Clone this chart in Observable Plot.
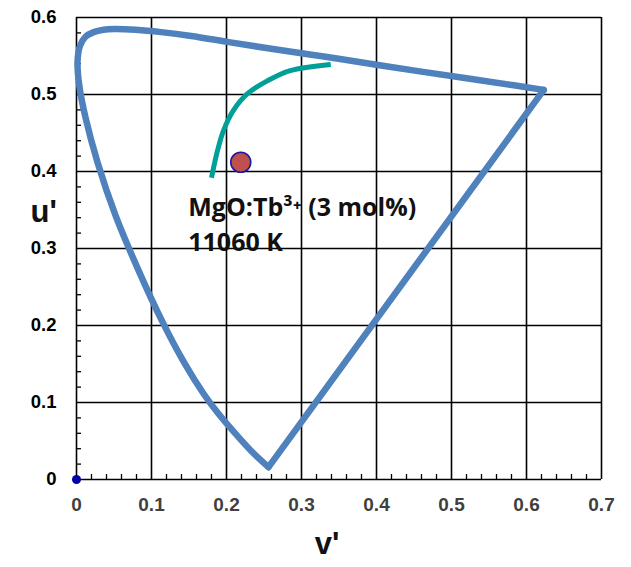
<!DOCTYPE html>
<html><head><meta charset="utf-8">
<script src="https://cdn.jsdelivr.net/npm/d3@7"></script>
<script src="https://cdn.jsdelivr.net/npm/@observablehq/plot@0.6"></script>
<style>body{margin:0;background:#fff}</style>
</head><body><div id="chart"></div>
<script>
// Axis ticks
const xTicks = [0, 0.1, 0.2, 0.3, 0.4, 0.5, 0.6, 0.7];
const yTicks = [0, 0.1, 0.2, 0.3, 0.4, 0.5, 0.6];
const xTickLabels = ["0", "0.1", "0.2", "0.3", "0.4", "0.5", "0.6", "0.7"];
const yTickLabels = ["0", "0.1", "0.2", "0.3", "0.4", "0.5", "0.6"];
const xMinor = [0.02,0.04,0.06,0.08,0.12,0.14,0.16,0.18,0.22,0.24,0.26,0.28,0.32,0.34,0.36,0.38,0.42,0.44,0.46,0.48,0.52,0.54,0.56,0.58,0.62,0.64,0.66,0.68];
const yMinor = [0.02,0.04,0.06,0.08,0.12,0.14,0.16,0.18,0.22,0.24,0.26,0.28,0.32,0.34,0.36,0.38,0.42,0.44,0.46,0.48,0.52,0.54,0.56,0.58];

// Spectral locus (horizontal = v', vertical = u' as labelled)
const locusV = [0.256, 0.235, 0.216, 0.188, 0.169, 0.144, 0.115, 0.083, 0.052, 0.028, 0.012, 0.0035, 0.0014, 0.0046, 0.012, 0.023, 0.036, 0.050, 0.079, 0.113, 0.153, 0.203, 0.262, 0.332, 0.404, 0.520, 0.583, 0.623];
const locusU = [0.016, 0.035, 0.055, 0.087, 0.112, 0.151, 0.204, 0.271, 0.343, 0.412, 0.470, 0.513, 0.543, 0.563, 0.575, 0.581, 0.584, 0.585, 0.584, 0.581, 0.576, 0.568, 0.559, 0.549, 0.538, 0.521, 0.512, 0.506];
// Line of purples (closing the locus)
const purpleV = [0.623, 0.256];
const purpleU = [0.506, 0.016];

// Planckian locus
const planckV = [0.180, 0.188, 0.196, 0.209, 0.228, 0.255, 0.285, 0.339];
const planckU = [0.392, 0.427, 0.453, 0.479, 0.501, 0.518, 0.531, 0.539];

// Sample point
const sampleV = [0.219];
const sampleU = [0.412];
const sampleLabel = ["MgO:Tb³⁺ (3 mol%)", "11060 K"];

// Origin point
const originV = [0];
const originU = [0];

const toRows = (vs, us) => vs.map((v, i) => ({v, u: us[i]}));
const locus = toRows(locusV, locusU);
const purple = toRows(purpleV, purpleU);
const planck = toRows(planckV, planckU);
const sample = toRows(sampleV, sampleU);
const origin = toRows(originV, originU);

const blue = "#4f81bd";
const chart = Plot.plot({
  width: 631,
  height: 567,
  marginLeft: 76,
  marginRight: 30,
  marginTop: 17,
  marginBottom: 88,
  style: {fontFamily: "'Liberation Sans', Arial, sans-serif", background: "#fff"},
  x: {domain: [0, 0.7]},
  y: {domain: [0, 0.6]},
  marks: [
    Plot.ruleX(xTicks, {stroke: "#000", strokeWidth: 1.6}),
    Plot.ruleY(yTicks, {stroke: "#000", strokeWidth: 1.6}),
    Plot.axisX(xMinor, {tickSize: -5, tickFormat: () => "", label: null, strokeWidth: 1.3}),
    Plot.axisY(yMinor, {tickSize: -5, tickFormat: () => "", label: null, strokeWidth: 1.3}),
    Plot.axisX(xTicks, {tickSize: 0, tickPadding: 18, fontSize: 19, fontWeight: "bold", color: "#404040",
      tickFormat: (d, i) => xTickLabels[i], label: null}),
    Plot.axisY(yTicks, {tickSize: 0, tickPadding: 20, fontSize: 18.5, fontWeight: "bold", color: "#000",
      tickFormat: (d, i) => yTickLabels[i], label: null}),
    Plot.line(locus, {x: "v", y: "u", stroke: blue, strokeWidth: 6.5, strokeLinejoin: "round", strokeLinecap: "round", curve: "catmull-rom"}),
    Plot.line(purple, {x: "v", y: "u", stroke: blue, strokeWidth: 6.5, strokeLinejoin: "round", strokeLinecap: "round"}),
    Plot.line(planck, {x: "v", y: "u", stroke: "#00a098", strokeWidth: 5, strokeLinecap: "butt", curve: "catmull-rom"}),
    Plot.dot(sample, {x: "v", y: "u", r: 10, fill: "#c0504d", stroke: "#1a1aa0", strokeWidth: 1.6}),
    Plot.text([sampleLabel.join("\n")], {x: () => 0.149, y: () => 0.297, text: d => d, textAnchor: "start", lineAnchor: "bottom",
      lineHeight: 1.4, fontSize: 25, fontWeight: "bold", fontFamily: "'Open Sans', sans-serif", fill: "#111"}),
    Plot.dot(origin, {x: "v", y: "u", r: 4.5, fill: "#0000a8"}),
    Plot.text(["u'"], {frameAnchor: "left", dx: -46, dy: -36, text: d => d, fontSize: 31, fontWeight: "bold", fill: "#111"}),
    Plot.text(["v'"], {frameAnchor: "bottom", dx: -12, dy: 74, text: d => d, fontSize: 31, fontWeight: "bold", fill: "#111"})
  ]
});
document.getElementById("chart").appendChild(chart);
</script>
</body></html>
